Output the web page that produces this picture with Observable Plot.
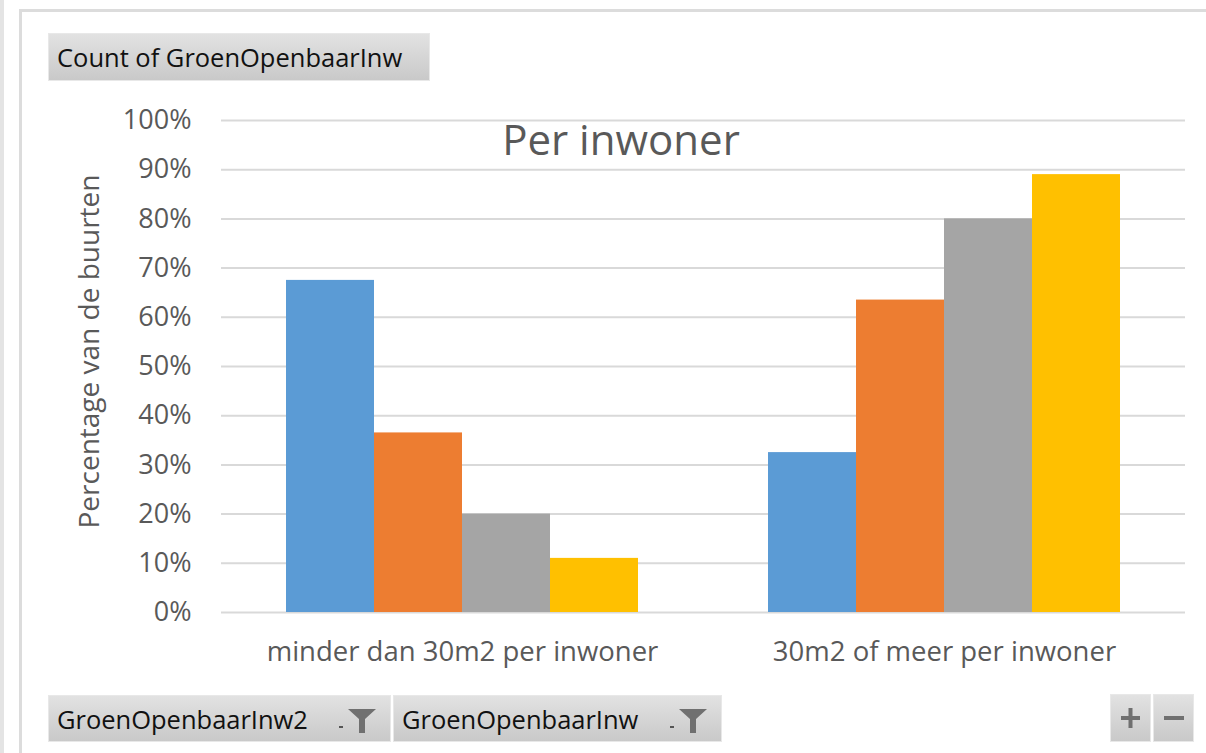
<!DOCTYPE html>
<html>
<head>
<meta charset="utf-8">
<script src="https://cdn.jsdelivr.net/npm/d3@7"></script>
<script src="https://cdn.jsdelivr.net/npm/@observablehq/plot@0.6"></script>
<style>
  html, body { margin: 0; padding: 0; background: #fff; }
  #page { position: relative; width: 1206px; height: 753px; overflow: hidden; background: #fff; font-family: "Open Sans", "Noto Sans", sans-serif; }
  #chart { position: absolute; left: 0; top: 0; }
  .strip { position: absolute; background: #e4e4e4; }
  .btn { position: absolute; box-sizing: border-box; background: linear-gradient(#e2e2e2, #c9c9c9); border: 1px solid #e8e8e8; color: #111; font-family: "Open Sans", sans-serif; font-size: 26px; line-height: 46px; padding-left: 8px; white-space: nowrap; }
  .btn span { display: inline-block; transform: scaleX(0.98); transform-origin: left center; }
  .funnel { position: absolute; top: 12px; }
  #title { position: absolute; left: 0; width: 1242px; top: 110px; text-align: center; font-size: 42px; color: #595959; }
</style>
</head>
<body>
<div id="page">
  <div class="strip" style="left:0;top:0;width:4px;height:753px;"></div>
  <div class="strip" style="left:19px;top:9px;width:3px;height:744px;background:#dcdcdc;"></div>
  <div class="strip" style="left:19px;top:9px;width:1187px;height:3px;background:#dcdcdc;"></div>
  <div id="chart"></div>
  <div id="title">Per inwoner</div>
  <div class="btn" style="left:48px;top:33px;width:382px;height:48px;"><span>Count of GroenOpenbaarInw</span></div>
  <div class="btn" style="left:48px;top:695px;width:343px;height:47px;"><span>GroenOpenbaarInw2</span>
    <svg class="funnel" style="left:290px" width="40" height="26" viewBox="0 0 40 26"><rect x="0" y="18" width="4" height="2" fill="#555"/><path d="M9 1 H37 L26 11 V25 H20 V11 Z" fill="#707070"/></svg>
  </div>
  <div class="btn" style="left:393px;top:695px;width:329px;height:47px;"><span>GroenOpenbaarInw</span>
    <svg class="funnel" style="left:276px" width="40" height="26" viewBox="0 0 40 26"><rect x="0" y="18" width="4" height="2" fill="#555"/><path d="M9 1 H37 L26 11 V25 H20 V11 Z" fill="#707070"/></svg>
  </div>
  <div class="btn" style="left:1110px;top:694px;width:41px;height:48px;padding:0;">
    <svg width="39" height="46" viewBox="0 0 39 46"><rect x="10" y="21" width="19" height="4" fill="#707070"/><rect x="17.5" y="13" width="4" height="20" fill="#707070"/></svg>
  </div>
  <div class="btn" style="left:1153px;top:694px;width:41px;height:48px;padding:0;">
    <svg width="39" height="46" viewBox="0 0 39 46"><rect x="10" y="21" width="20" height="4" fill="#707070"/></svg>
  </div>
</div>
<script>
const categories = ["minder dan 30m2 per inwoner", "30m2 of meer per inwoner"];
const seriesNames = ["Reeks 1", "Reeks 2", "Reeks 3", "Reeks 4"];
const valuesMinder = [67.5, 36.5, 20.0, 11.0];
const valuesMeer = [32.5, 63.5, 80.0, 89.0];
const yTicks = [0, 10, 20, 30, 40, 50, 60, 70, 80, 90, 100];
const yLabel = "Percentage van de buurten";

const data = [];
seriesNames.forEach((s, i) => {
  data.push({category: categories[0], series: s, value: valuesMinder[i]});
  data.push({category: categories[1], series: s, value: valuesMeer[i]});
});

const chart = Plot.plot({
  width: 1206,
  height: 700,
  marginLeft: 220,
  marginRight: 21,
  marginTop: 120,
  marginBottom: 88,
  style: {fontFamily: "'Open Sans', 'Noto Sans', sans-serif", fontSize: "27px", color: "#595959", background: "transparent"},
  fx: {domain: categories, padding: 0, label: null},
  x: {domain: seriesNames, paddingInner: 0, paddingOuter: 0.72, axis: null},
  y: {domain: [0, 100], ticks: yTicks, label: null},
  color: {domain: seriesNames, range: ["#5b9bd5", "#ed7d31", "#a5a5a5", "#ffc000"]},
  marks: [
    Plot.gridY(yTicks, {stroke: "#d9d9d9", strokeOpacity: 1, strokeWidth: 2}),
    Plot.barY(data, {fx: "category", x: "series", y: "value", fill: "series", inset: 0}),
    Plot.axisY(yTicks, {tickSize: 0, tickPadding: 30, tickFormat: d => d + "%", fontSize: 27, label: null}),
    Plot.text([yLabel], {fx: () => categories[0], text: d => d, frameAnchor: "left", rotate: -90, dx: -131, dy: -15, fontSize: 28, fill: "#595959", textAnchor: "middle"}),
    Plot.axisFx({anchor: "bottom", tickSize: 0, tickPadding: 29, fontSize: 27.5, label: null})
  ]
});
document.getElementById("chart").appendChild(chart);
</script>
</body>
</html>
